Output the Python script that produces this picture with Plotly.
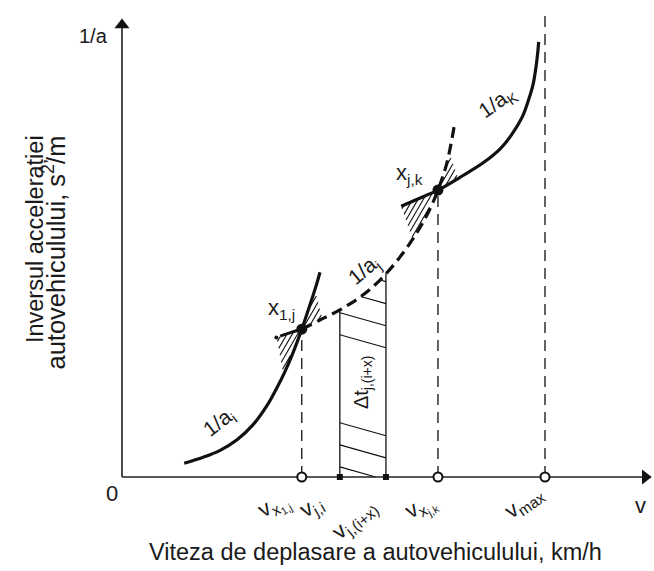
import numpy as np
import plotly.graph_objects as go

# ---------------- data (v = speed units, q = 1/a units) ----------------
ai_v = [14.7, 19.2, 23.2, 27.2, 31.0, 34.3, 36.6, 38.5, 40.4, 42.5, 44.4, 46.1, 46.8]
ai_q = [3.0, 4.3, 5.8, 8.1, 11.4, 15.6, 19.4, 22.9, 27.0, 32.2, 37.4, 42.3, 44.6]

aj_solid_v = [37.4, 40.0, 42.5]
aj_solid_q = [30.7, 31.5, 32.2]
aj_v = [42.5, 46.8, 51.5, 56.3, 61.0, 65.7, 69.7, 72.8, 74.7, 76.8, 78.7]
aj_q = [32.2, 34.2, 36.4, 39.2, 42.9, 47.9, 53.2, 58.4, 62.5, 68.4, 77.3]

ak_v = [66.0, 70.5, 74.7, 79.9, 85.3, 89.4, 92.2, 94.6, 96.2, 97.2, 97.9, 98.3, 98.5]
ak_q = [59.0, 60.8, 62.5, 65.3, 68.4, 71.5, 74.7, 78.4, 82.4, 85.6, 89.5, 92.6, 94.8]

x1j = (42.5, 32.2)
xjk = (74.7, 62.5)
v_ji, v_jix = 51.5, 62.4
v_max = 100.0
q_axis_top = 100.0
v_axis_end = 125.3
q_vmax_top = 101.3

tick_labels = ["v<sub>x<sub>1,j</sub></sub>", "v<sub>j,i</sub>", "v<sub>j,(i+x)</sub>",
               "v<sub>x<sub>j,k</sub></sub>", "v<sub>max</sub>"]

# ---------------- helpers ----------------
BLACK = "#111111"
FONT = "Liberation Sans, Arial, sans-serif"


def hatch(poly, slope, cvals):
    P = np.array(poly, dtype=float)
    n = len(P)
    xs, ys = [], []
    for c in cvals:
        ts = []
        for i in range(n):
            (x1, y1), (x2, y2) = P[i], P[(i + 1) % n]
            f1 = y1 - (slope * x1 + c)
            f2 = y2 - (slope * x2 + c)
            if f1 == f2:
                continue
            if (f1 <= 0 < f2) or (f2 <= 0 < f1):
                t = f1 / (f1 - f2)
                ts.append(x1 + t * (x2 - x1))
        ts.sort()
        for a, b in zip(ts[0::2], ts[1::2]):
            xs += [a, b, None]
            ys += [slope * a + c, slope * b + c, None]
    return xs, ys


def cvals_for(poly, slope, step):
    cs = [q - slope * v for v, q in poly]
    return np.arange(min(cs) + step / 2, max(cs), step)


fig = go.Figure()


def line(x, y, width=1.2, dash=None, shape="linear", color=BLACK):
    fig.add_trace(go.Scatter(x=x, y=y, mode="lines",
                             line=dict(color=color, width=width, dash=dash, shape=shape, smoothing=1.0),
                             hoverinfo="skip", showlegend=False))


# ---- hatch in strip under 1/a_j between v_ji and v_jix ----
vv = np.linspace(v_jix, v_ji, 30)
top = np.interp(vv, aj_v, aj_q)
strip_poly = [(v_ji, 0), (v_jix, 0)] + list(zip(vv, top))
s_slope = -0.26
q0s = [2.2 + 4.8 * k for k in range(10)]
q0s = [q for q in q0s if not (13 < q < 29.5)]
hx, hy = hatch(strip_poly, s_slope, [q + 0.26 * v_ji for q in q0s])
line(hx, hy, width=1.1)

# strip borders
line([v_ji, v_ji], [0, np.interp(v_ji, aj_v, aj_q)], width=1.3)
line([v_jix, v_jix], [0, np.interp(v_jix, aj_v, aj_q)], width=1.3)

# ---- hatches around intersection points ----
h_slope = 1.59
regions = [
    [(36.6, 30.3), (42.5, 32.2), (38.1, 22.7)],
    [(42.5, 32.2), (45.6, 40.7), (47.3, 34.6)],
    [(66.0, 59.0), (74.7, 62.5), (68.8, 51.6)],
    [(74.7, 62.5), (77.5, 70.2), (79.4, 65.1)],
]
for poly in regions:
    hx, hy = hatch(poly, h_slope, cvals_for(poly, h_slope, 2.0))
    line(hx, hy, width=1.1)

# ---- vertical dashed lines ----
line([x1j[0], x1j[0]], [0, x1j[1]], width=1.3, dash="11px,7px")
line([xjk[0], xjk[0]], [0, xjk[1]], width=1.3, dash="11px,7px")
line([v_max, v_max], [0, q_vmax_top], width=1.3, dash="11px,7px")

# ---- axes ----
line([0, 0], [0, q_axis_top - 2], width=1.6, color="#222222")
line([0, v_axis_end - 2], [0, 0], width=1.6, color="#222222")
fig.add_trace(go.Scatter(x=[0], y=[q_axis_top - 1.5], mode="markers",
                         marker=dict(symbol="triangle-up", size=13, color="#111111"),
                         hoverinfo="skip", showlegend=False))
fig.add_trace(go.Scatter(x=[v_axis_end - 1.6], y=[0], mode="markers",
                         marker=dict(symbol="triangle-right", size=13, color="#111111"),
                         hoverinfo="skip", showlegend=False))

# ---- curves ----
line(ai_v, ai_q, width=3.2, shape="spline")
line(aj_solid_v, aj_solid_q, width=3.0, shape="spline")
line(aj_v, aj_q, width=3.2, dash="11px,6px", shape="spline")
line(ak_v, ak_q, width=3.2, shape="spline")

# ---- markers ----
fig.add_trace(go.Scatter(x=[aj_solid_v[0] - 0.9], y=[aj_solid_q[0] - 0.3], mode="markers",
                         marker=dict(size=4, color=BLACK), hoverinfo="skip", showlegend=False))
fig.add_trace(go.Scatter(x=[x1j[0], xjk[0]], y=[x1j[1], xjk[1]], mode="markers",
                         marker=dict(size=11, color=BLACK), hoverinfo="skip", showlegend=False))
fig.add_trace(go.Scatter(x=[v_ji, v_jix], y=[0, 0], mode="markers",
                         marker=dict(size=6, symbol="square", color=BLACK),
                         hoverinfo="skip", showlegend=False))
fig.add_trace(go.Scatter(x=[x1j[0], xjk[0], v_max], y=[0, 0, 0], mode="markers",
                         marker=dict(size=9, color="white", line=dict(color=BLACK, width=2)),
                         hoverinfo="skip", showlegend=False))


# ---- texts ----
def text(x, y, s, size=19, angle=0, xanchor="center", yanchor="middle", align="center"):
    fig.add_annotation(x=x, y=y, xref="x", yref="y", text=s, showarrow=False,
                       textangle=angle, xanchor=xanchor, yanchor=yanchor, align=align,
                       font=dict(family=FONT, size=size, color="#1a1a1a"))


text(-6.7, 96.1, "1/a", size=20)
text(-2.4, -3.7, "0", size=22)
text(122.5, -6.1, "v", size=22)

text(22.9, 11.8, "1/a<sub>i</sub>", size=21, angle=-38)
text(37.6, 36.6, "x<sub>1,j</sub>", size=22)
text(57.2, 44.9, "1/a<sub>j</sub>", size=21, angle=-40)
text(68.0, 66.0, "x<sub>j,k</sub>", size=22)
text(88.7, 81.5, "1/a<sub>K</sub>", size=21, angle=-35)
text(57.0, 20.7, "Δt<sub>j,(i+x)</sub>", size=20, angle=-90)

tick_pos = [(36.0, -6.4, -30), (45.0, -6.6, -30), (55.0, -9.3, -40), (70.8, -6.6, -30), (95.0, -5.6, -35)]
for (x, y, a), s in zip(tick_pos, tick_labels):
    text(x, y, s, size=22, angle=a)

text(60.0, -16.3, "Viteza de deplasare a autovehiculului, km/h", size=23.5)
text(-20.6, 74.9, "Inversul accelerației", size=23.5, angle=-90, yanchor="top")
text(-16.0, 74.9, "autovehiculului, s<sup>2</sup>/m", size=25.5, angle=-90, yanchor="top")

fig.update_layout(
    width=654, height=571,
    margin=dict(l=0, r=0, t=0, b=0),
    paper_bgcolor="white", plot_bgcolor="white",
    xaxis=dict(range=[-28.84, 125.77], visible=False, fixedrange=True),
    yaxis=dict(range=[-20.48, 103.92], visible=False, fixedrange=True),
    showlegend=False,
)

fig.write_html("out.html", config={"displayModeBar": False})
